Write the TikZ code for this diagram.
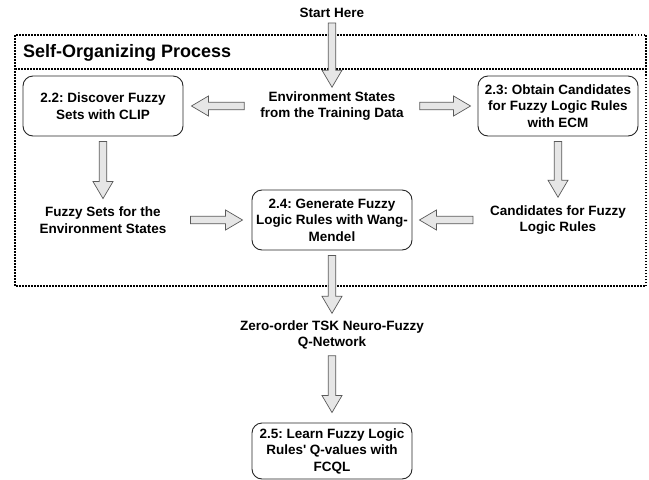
\documentclass[tikz,border=0pt]{standalone}
\usepackage{fontspec}
\setmainfont{Liberation Sans}
\usetikzlibrary{calc}
\frenchspacing

\definecolor{arrowfill}{HTML}{E6E6E6}
\definecolor{arrowline}{HTML}{5A5A5A}

\tikzset{
  box/.style={draw=black!85, line width=0.9pt, fill=white, rounded corners=10pt,
    minimum width=160pt, minimum height=60pt, align=center, inner sep=2pt},
  lbl/.style={align=center, inner sep=0pt},
  % hollow block arrow between two points
  flow/.style={draw=arrowline, fill=arrowfill, line width=0.7pt,
    to path={let \p1=(\tikztostart), \p2=(\tikztotarget),
      \p3=($(\p2)!17pt!(\p1)$) in
      ($(\p1)!3.75pt!90:(\p2)$) -- ($(\p3)!3.75pt!-90:(\p1)$)
      -- ($(\p3)!10pt!-90:(\p1)$) -- (\p2) -- ($(\p3)!10pt!90:(\p1)$)
      -- ($(\p3)!3.75pt!90:(\p1)$) -- ($(\p1)!3.75pt!-90:(\p2)$) -- cycle}},
}

\begin{document}
\begin{tikzpicture}[x=1pt, y=-1pt, font=\bfseries\fontsize{13.5}{16.5}\selectfont]
  \useasboundingbox (0,0) rectangle (649,480);

  % self-organizing group
  \draw[line width=1.5pt, dash pattern=on 1.5pt off 1.5pt] (15,35) rectangle (646,286);
  \draw[line width=1.5pt, dash pattern=on 1.5pt off 1.5pt] (15,69) -- (646,69);
  \node[lbl, anchor=west, font=\bfseries\fontsize{18}{20}\selectfont] (title) at (23,53) {Self-Organizing Process};

  \node[lbl] (start) at (332,13) {Start Here};
  \node[lbl] (env) at (332,106) {Environment States\\from the Training Data};
  \node[box] (d22) at (103,106) {2.2: Discover Fuzzy\\Sets with CLIP};
  \node[box] (d23) at (558,106) {2.3: Obtain Candidates\\for Fuzzy Logic Rules\\with ECM};
  \node[lbl] (fuzzy) at (103,220) {Fuzzy Sets for the\\Environment States};
  \node[box] (d24) at (332,220) {2.4: Generate Fuzzy\\Logic Rules with Wang-\\Mendel};
  \node[lbl] (cand) at (558,220) {Candidates for Fuzzy\\Logic Rules};
  \node[lbl] (zero) at (332,335) {Zero-order TSK Neuro-Fuzzy\\Q-Network};
  \node[box, minimum height=56pt] (d25) at (332,451) {2.5: Learn Fuzzy Logic\\Rules\textquotesingle{} Q-values with\\FCQL};

  % flow between the steps
  \draw[flow] ([yshift=-5pt]start.south) to ([yshift=4pt]env.north);
  \draw[flow] ([xshift=-16pt]env.west) to ([xshift=8pt]d22.east);
  \draw[flow] ([xshift=16pt]env.east) to ([xshift=-7pt]d23.west);
  \draw[flow] ([yshift=-5pt]d22.south) to ([yshift=8pt]fuzzy.north);
  \draw[flow] ([yshift=-5pt]d23.south) to ([yshift=8pt]cand.north);
  \draw[flow] ([xshift=24pt]fuzzy.east) to ([xshift=-9pt]d24.west);
  \draw[flow] ([xshift=-17pt]cand.west) to ([xshift=7pt]d24.east);
  \draw[flow] ([yshift=-5pt]d24.south) to ([yshift=7pt]zero.north);
  \draw[flow] ([yshift=-6pt]zero.south) to ([yshift=10pt]d25.north);
\end{tikzpicture}
\end{document}
